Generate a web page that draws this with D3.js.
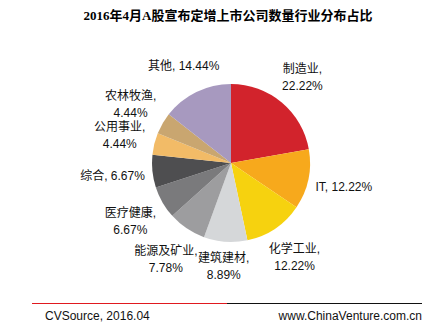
<!DOCTYPE html>
<html>
<head>
<meta charset="utf-8">
<script src="https://cdn.jsdelivr.net/npm/d3@7"></script>
<style>
  html, body { margin: 0; padding: 0; background: #fff; }
  svg { display: block; }
  .lbl { font-family: Arial, "Liberation Sans", "Noto Sans CJK SC", sans-serif; font-size: 12px; fill: #111; }
</style>
</head>
<body>
<svg id="chart" width="432" height="325"></svg>
<script>
// Industry share of A-share private placement announcements, April 2016
const categories = ["制造业", "IT", "化学工业", "建筑建材", "能源及矿业", "医疗健康", "综合", "公用事业", "农林牧渔", "其他"];
const shares = [22.22, 12.22, 12.22, 8.89, 7.78, 6.67, 6.67, 4.44, 4.44, 14.44];
const sliceColors = ["#D2232C", "#F7A91C", "#F6D20F", "#D5D7D9", "#9D9D9F", "#7A7A7C", "#4E4E50", "#F2BB67", "#C9A670", "#A799BF"];

const titleText = "2016年4月A股宣布定增上市公司数量行业分布占比";
const sourceText = "CVSource, 2016.04";
const siteText = "www.ChinaVenture.com.cn";

const svg = d3.select("#chart");

// Title
svg.append("text")
  .attr("x", 228).attr("y", 20)
  .attr("text-anchor", "middle")
  .style("font-family", "'Liberation Serif', 'Noto Sans CJK SC', serif")
  .style("font-weight", "bold")
  .style("font-size", "13px")
  .style("fill", "#000")
  .text(titleText);

// Pie
const cx = 231, cy = 163, r = 79;
const data = categories.map((c, i) => ({ name: c, value: shares[i], color: sliceColors[i] }));
const pie = d3.pie().value(d => d.value).sort(null);
const arcs = pie(data);
const arc = d3.arc().innerRadius(0).outerRadius(r);

const g = svg.append("g").attr("transform", `translate(${cx},${cy})`);
g.selectAll("path.slice")
  .data(arcs)
  .join("path")
  .attr("class", "slice")
  .attr("d", arc)
  .attr("fill", d => d.data.color);

// Data labels: placed just outside the rim along each slice's mid-angle
const pad = 7;
const fmt = d3.format(".2f");
arcs.forEach(a => {
  const mid = (a.startAngle + a.endAngle) / 2;
  const sx = Math.sin(mid), sy = -Math.cos(mid);
  const lines = [...a.data.name].length <= 2
    ? [`${a.data.name}, ${fmt(a.data.value)}%`]
    : [`${a.data.name},`, `${fmt(a.data.value)}%`];
  const t = g.append("text").attr("class", "lbl").attr("text-anchor", "middle");
  lines.forEach((ln, i) => {
    t.append("tspan").attr("x", 0).attr("dy", i === 0 ? 0 : 17).text(ln);
  });
  const bb = t.node().getBBox();
  const hw = bb.width / 2, hh = bb.height / 2;
  const d = r + pad + Math.abs(sx) * hw + Math.abs(sy) * hh;
  const px = sx * d, py = sy * d;
  // shift so the box centre lands at (px, py)
  const bcy = bb.y + hh;
  t.attr("transform", `translate(${px},${py - bcy})`);
});

// Footer rule
svg.append("line").attr("x1", 32).attr("x2", 227).attr("y1", 303.5).attr("y2", 303.5)
  .attr("stroke", "#E0191F").attr("stroke-width", 1);
svg.append("line").attr("x1", 227).attr("x2", 422).attr("y1", 303.5).attr("y2", 303.5)
  .attr("stroke", "#111").attr("stroke-width", 1);

svg.append("text").attr("class", "lbl").attr("x", 45).attr("y", 320).text(sourceText);
svg.append("text").attr("class", "lbl").attr("x", 422).attr("y", 320)
  .attr("text-anchor", "end").text(siteText);
</script>
</body>
</html>
